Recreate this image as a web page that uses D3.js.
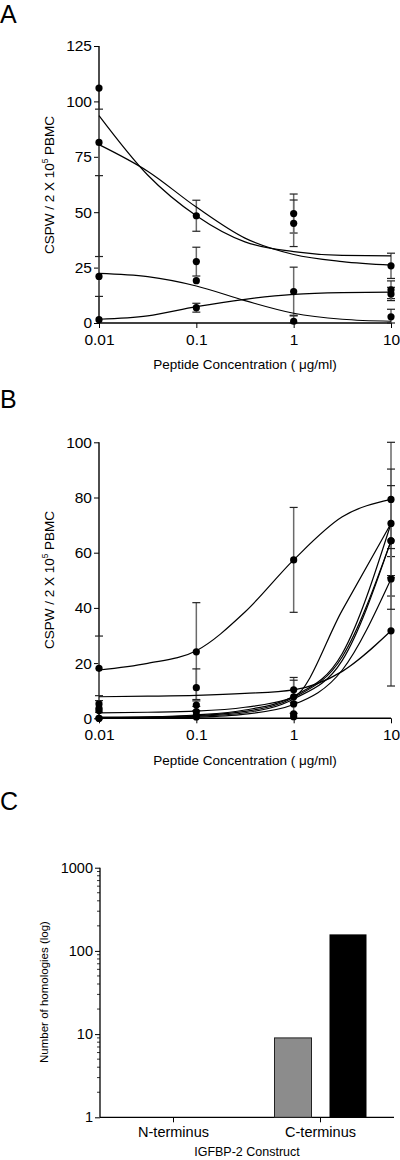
<!DOCTYPE html>
<html><head><meta charset="utf-8">
<script src="https://cdn.jsdelivr.net/npm/d3@7/dist/d3.min.js"></script>
<style>body{margin:0;background:#fff}svg{display:block;font-family:"Liberation Sans",Arial,sans-serif}</style>
</head><body><svg id="c" width="400" height="1160"></svg>
<script>
// ---------- DATA ----------
const concentrations = [0.01, 0.1, 1, 10];
const xTickLabels = ["0.01", "0.1", "1", "10"];
const curveX = [0.01, 0.0316, 0.1, 0.316, 1, 3.16, 10];

// Panel A: measured points (mean) and error (SEM)
const aSeries1 = [106, 48.4, 49.4, 25.8];
const aErr1    = [0, 7, 8.8, 5.7];
const aSeries2 = [81.5, 27.7, 45, 15];
const aErr2    = [15, 6.5, 10.5, 4];
const aSeries3 = [21, 19.1, 0.8, 2.8];
const aErr3    = [9, 0, 2.7, 3.4];
const aSeries4 = [1.5, 6.9, 14.2, 13.1];
const aErr4    = [0, 2, 11, 3];
// Panel A: fitted curves read at curveX
const aCurve1 = [93.6, 66.8, 48.4, 36.6, 32.2, 30.5, 30.3];
const aCurve2 = [80.5, 68.5, 52.3, 38.3, 30.9, 27.7, 26.1];
const aCurve3 = [22.4, 20.9, 16.7, 10.1, 4.4, 1.7, 0.8];
const aCurve4 = [1.7, 3.2, 7.4, 10.7, 12.9, 13.7, 13.9];
const aYTicks = [0, 25, 50, 75, 100, 125];

// Panel B
const bSeries1 = [18.1, 24.1, 57.4, 79.3];
const bErr1    = [11.7, 17.8, 19, 20.7];
const bSeries2 = [5.2, 11.1, 10.3, 31.7];
const bErr2    = [3, 6.8, 4.5, 20];
const bSeries3 = [3.6, 4.8, 7.8, 70.6];
const bErr3    = [0, 2, 6, 19.7];
const bSeries4 = [2.8, 2.4, 5.2, 64.3];
const bErr4    = [0, 0, 0, 20];
const bSeries5 = [0, 1, 1.6, 50.5];
const bErr5    = [0, 0, 0, 11];
const bSeries6 = [0, 0.5, 0.6, 64.3];
const bErr6    = [0, 0, 0, 0];
const bCurve1 = [17.5, 19.9, 24.5, 38.5, 57.4, 73, 79.3];
const bCurve2 = [7.8, 8, 8.3, 9, 10.3, 17, 31.7];
const bCurve3 = [2, 2.2, 2.6, 4, 7.7, 39.2, 70.6];
const bCurve4 = [0.3, 0.5, 1.2, 3, 8, 23.5, 70.6];
const bCurve5 = [0.3, 0.4, 1, 2.5, 7.5, 22.3, 64.3];
const bCurve6 = [0, 0.2, 0.7, 2, 7, 21, 64.3];
const bCurve7 = [0, 0.1, 0.4, 1.5, 5, 17.5, 50.5];
const bYTicks = [0, 20, 40, 60, 80, 100];

// Panel C
const cCategories = ["N-terminus", "C-terminus"];
const cGrayValues = [null, 9];
const cBlackValues = [null, 158];
const cYTicks = [1, 10, 100, 1000];
const cYTickLabels = ["1", "10", "100", "1000"];

// ---------- DRAW ----------
const svg = d3.select("#c");
const font = '"Liberation Sans",Arial,sans-serif';
const errColor = "#6a6a6a";

function panelLetter(t, y) {
  svg.append("text").attr("x", 0).attr("y", y).attr("font-size", 25).text(t);
}

function curvePanel(top0, yMax, yZero, yTicks, series, errs, curves) {
  const x = d3.scaleLog().domain([0.01, 10]).range([99, 391]);
  const y = d3.scaleLinear().domain([0, yMax]).range([yZero, top0]);
  const g = svg.append("g");
  const yAxis = g.append("g").attr("transform", "translate(99,0)")
    .call(d3.axisLeft(y).tickValues(yTicks).tickSize(5).tickPadding(2));
  yAxis.select(".domain").attr("stroke", "#000").attr("stroke-width", 1.4).attr("d", `M0,${y(yMax)}V${y(0)}`);
  yAxis.selectAll("text").attr("font-size", 15.5).attr("font-family", font).attr("fill", "#000");
  const xAxis = g.append("g").attr("transform", `translate(0,${yZero})`)
    .call(d3.axisBottom(x).tickValues(concentrations).tickFormat((d, i) => xTickLabels[i]).tickSize(5).tickPadding(6));
  xAxis.select(".domain").attr("stroke", "#000").attr("stroke-width", 1.4).attr("d", `M99,0H391`);
  xAxis.selectAll("text").attr("font-size", 15.5).attr("font-family", font).attr("fill", "#000");

  // error bars
  series.forEach((s, si) => {
    s.forEach((v, i) => {
      const e = errs[si][i];
      if (!e) return;
      const cx = x(concentrations[i]);
      const lo = Math.max(0, v - e), hi = v + e;
      g.append("line").attr("x1", cx).attr("x2", cx).attr("y1", y(lo)).attr("y2", y(hi))
        .attr("stroke", errColor).attr("stroke-width", 1.5);
      [lo, hi].forEach(b => g.append("line").attr("x1", cx - 4).attr("x2", cx + 4)
        .attr("y1", y(b)).attr("y2", y(b)).attr("stroke", "#222").attr("stroke-width", 1.2));
    });
  });
  // curves
  const line = d3.line().x((d, i) => x(curveX[i])).y(d => y(d)).curve(d3.curveMonotoneX);
  curves.forEach(c => g.append("path").attr("d", line(c)).attr("fill", "none")
    .attr("stroke", "#000").attr("stroke-width", 1.2));
  // points
  series.forEach(s => s.forEach((v, i) => g.append("circle")
    .attr("cx", x(concentrations[i])).attr("cy", y(v)).attr("r", 3.6).attr("fill", "#000")));
  return {x, y};
}

function yTitle(cx, cy, size) {
  const t = svg.append("text").attr("transform", `translate(${cx},${cy}) rotate(-90)`)
    .attr("text-anchor", "middle").attr("font-size", size);
  t.append("tspan").text("CSPW / 2 X 10");
  t.append("tspan").text("5").attr("font-size", size * 0.62).attr("dy", -6);
  t.append("tspan").text(" PBMC").attr("dy", 6);
}
function xTitle(cy) {
  svg.append("text").attr("x", 245).attr("y", cy).attr("text-anchor", "middle")
    .attr("font-size", 13.5).text("Peptide Concentration ( \u03bcg/ml)");
}

// Panel A
panelLetter("A", 23);
curvePanel(46, 125, 323,
  aYTicks, [aSeries1, aSeries2, aSeries3, aSeries4], [aErr1, aErr2, aErr3, aErr4],
  [aCurve1, aCurve2, aCurve3, aCurve4]);
yTitle(54, 185, 13.5);
xTitle(369);

// Panel B
panelLetter("B", 408);
curvePanel(442.3, 100, 718.3,
  bYTicks, [bSeries1, bSeries2, bSeries3, bSeries4, bSeries5, bSeries6],
  [bErr1, bErr2, bErr3, bErr4, bErr5, bErr6],
  [bCurve1, bCurve2, bCurve3, bCurve4, bCurve5, bCurve6, bCurve7]);
yTitle(54, 580, 13.5);
xTitle(765);

// Panel C
panelLetter("C", 810);
{
  const y = d3.scaleLog().domain([1, 1000]).range([1117.3, 867.7]);
  const x = d3.scaleBand().domain(cCategories).range([100, 394]);
  const g = svg.append("g");
  const yAxis = g.append("g").attr("transform", "translate(100,0)")
    .call(d3.axisLeft(y).tickValues(cYTicks).tickFormat((d, i) => cYTickLabels[i]).tickSize(5).tickPadding(2));
  yAxis.select(".domain").attr("stroke", "#000").attr("stroke-width", 1.3).attr("d", `M0,${y(1000)}V${y(1)}`);
  yAxis.selectAll("text").attr("font-size", 14.5).attr("font-family", font).attr("fill", "#000");
  // minor ticks
  const minor = [];
  [1, 10, 100].forEach(d => { for (let k = 2; k <= 9; k++) minor.push(d * k); });
  g.selectAll(".minor").data(minor).enter().append("line")
    .attr("x1", 97).attr("x2", 100).attr("y1", d => y(d)).attr("y2", d => y(d))
    .attr("stroke", "#000").attr("stroke-width", 0.8);
  const xAxis = g.append("g").attr("transform", `translate(0,${y(1)})`)
    .call(d3.axisBottom(x).tickSize(5).tickPadding(4));
  xAxis.select(".domain").attr("stroke", "#000").attr("stroke-width", 1.3).attr("d", "M100,0H394");
  xAxis.selectAll("text").attr("font-size", 14.5).attr("font-family", font).attr("fill", "#000");
  const bw = 37;
  cCategories.forEach((c, i) => {
    const cx = x(c) + x.bandwidth() / 2;
    if (cGrayValues[i]) g.append("rect").attr("x", cx - 46).attr("width", bw)
      .attr("y", y(cGrayValues[i])).attr("height", y(1) - y(cGrayValues[i]))
      .attr("fill", "#8c8c8c").attr("stroke", "#222").attr("stroke-width", 1);
    if (cBlackValues[i]) g.append("rect").attr("x", cx + 9).attr("width", bw)
      .attr("y", y(cBlackValues[i])).attr("height", y(1) - y(cBlackValues[i]))
      .attr("fill", "#000");
  });
  svg.append("text").attr("transform", "translate(48,992) rotate(-90)").attr("text-anchor", "middle")
    .attr("font-size", 11.5).text("Number of homologies (log)");
  svg.append("text").attr("x", 247).attr("y", 1156).attr("text-anchor", "middle")
    .attr("font-size", 12.5).text("IGFBP-2 Construct");
}
</script></body></html>
